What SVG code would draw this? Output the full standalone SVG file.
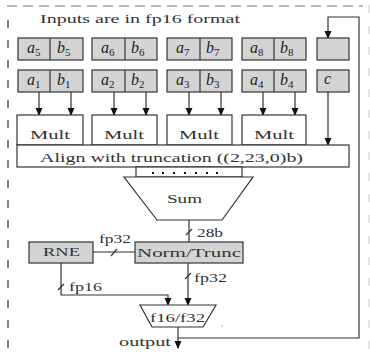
<svg xmlns="http://www.w3.org/2000/svg" width="370" height="357" viewBox="0 0 370 357">
<style>
.box{fill:#d4d4d4;stroke:#333;stroke-width:1.2}
.wbox{fill:#fff;stroke:#333;stroke-width:1.2}
.ln{fill:none;stroke:#333;stroke-width:1.2}
.t{font-family:"Liberation Serif","DejaVu Serif",serif;font-size:12.5px;fill:#333}
.m{font-family:"Liberation Serif","DejaVu Serif",serif;font-size:16px;font-style:italic;fill:#222}
.s{font-size:11px;font-style:normal}
</style>
<defs>
<marker id="ah" markerUnits="userSpaceOnUse" markerWidth="8" markerHeight="8" refX="7" refY="3.5" orient="auto">
<path d="M0,0 L8,3.5 L0,7 z" fill="#111"/>
</marker>
</defs>
<rect width="370" height="357" fill="#fff"/>
<g id="frame">
<line x1="7" y1="6" x2="363" y2="6" stroke="#777" stroke-width="1.2" stroke-dasharray="10,6"/>
<line x1="8" y1="20" x2="8" y2="357" stroke="#333" stroke-width="1.2" stroke-dasharray="8,12"/>
<line x1="369" y1="5" x2="369" y2="357" stroke="#ddd" stroke-width="1.5" stroke-dasharray="8,13"/>
<text class="t" x="40" y="23" textLength="200" lengthAdjust="spacingAndGlyphs">Inputs are in fp16 format</text>
</g>
<g id="connectors">
<line class="ln" x1="39" y1="92" x2="39" y2="115" marker-end="url(#ah)"/>
<line class="ln" x1="71" y1="92" x2="71" y2="115" marker-end="url(#ah)"/>
<line class="ln" x1="114" y1="92" x2="114" y2="115" marker-end="url(#ah)"/>
<line class="ln" x1="146" y1="92" x2="146" y2="115" marker-end="url(#ah)"/>
<line class="ln" x1="189" y1="92" x2="189" y2="115" marker-end="url(#ah)"/>
<line class="ln" x1="221" y1="92" x2="221" y2="115" marker-end="url(#ah)"/>
<line class="ln" x1="263" y1="92" x2="263" y2="115" marker-end="url(#ah)"/>
<line class="ln" x1="295" y1="92" x2="295" y2="115" marker-end="url(#ah)"/>
<line class="ln" x1="328" y1="92" x2="328" y2="145" marker-end="url(#ah)"/>
<line class="ln" x1="189" y1="220" x2="189" y2="242"/>
<line class="ln" x1="186" y1="235" x2="192" y2="229"/>
<text class="t" x="197" y="237" textLength="26" lengthAdjust="spacingAndGlyphs">28b</text>
<line class="ln" x1="93" y1="252" x2="135" y2="252"/>
<line class="ln" x1="111" y1="256" x2="117" y2="249"/>
<text class="t" x="99" y="243" textLength="32" lengthAdjust="spacingAndGlyphs">fp32</text>
<line class="ln" x1="188" y1="263" x2="188" y2="305" marker-end="url(#ah)"/>
<line class="ln" x1="185" y1="279" x2="191" y2="273"/>
<text class="t" x="194" y="282" textLength="33" lengthAdjust="spacingAndGlyphs">fp32</text>
<polyline class="ln" points="61,263 61,295 168,295 168,305" marker-end="url(#ah)"/>
<line class="ln" x1="58" y1="290" x2="64" y2="284"/>
<text class="t" x="69" y="291" textLength="33" lengthAdjust="spacingAndGlyphs">fp16</text>
<line class="ln" x1="178" y1="327" x2="178" y2="348" marker-end="url(#ah)"/>
<polyline class="ln" points="178,338 359,338 359,17 328,17 328,38" marker-end="url(#ah)"/>
<text class="t" x="119" y="346" textLength="52" lengthAdjust="spacingAndGlyphs">output</text>
<circle cx="222" cy="326" r="0.6" fill="#555"/>
</g>
<g id="in5"><rect class="box" x="18" y="38" width="65" height="22"/><line class="ln" x1="50" y1="38" x2="50" y2="60"/>
<text class="m" x="27" y="53">a<tspan class="s" dy="3">5</tspan></text><text class="m" x="57" y="53">b<tspan class="s" dy="3">5</tspan></text></g>
<g id="in6"><rect class="box" x="92" y="38" width="65" height="22"/><line class="ln" x1="125" y1="38" x2="125" y2="60"/>
<text class="m" x="101" y="53">a<tspan class="s" dy="3">6</tspan></text><text class="m" x="131" y="53">b<tspan class="s" dy="3">6</tspan></text></g>
<g id="in7"><rect class="box" x="167" y="38" width="65" height="22"/><line class="ln" x1="200" y1="38" x2="200" y2="60"/>
<text class="m" x="176" y="53">a<tspan class="s" dy="3">7</tspan></text><text class="m" x="206" y="53">b<tspan class="s" dy="3">7</tspan></text></g>
<g id="in8"><rect class="box" x="242" y="38" width="64" height="22"/><line class="ln" x1="274" y1="38" x2="274" y2="60"/>
<text class="m" x="250" y="53">a<tspan class="s" dy="3">8</tspan></text><text class="m" x="280" y="53">b<tspan class="s" dy="3">8</tspan></text></g>
<g id="acc"><rect class="box" x="317" y="38" width="32" height="22"/></g>
<g id="in1"><rect class="box" x="18" y="70" width="65" height="22"/><line class="ln" x1="50" y1="70" x2="50" y2="92"/>
<text class="m" x="27" y="85">a<tspan class="s" dy="3">1</tspan></text><text class="m" x="57" y="85">b<tspan class="s" dy="3">1</tspan></text></g>
<g id="in2"><rect class="box" x="92" y="70" width="65" height="22"/><line class="ln" x1="125" y1="70" x2="125" y2="92"/>
<text class="m" x="101" y="85">a<tspan class="s" dy="3">2</tspan></text><text class="m" x="131" y="85">b<tspan class="s" dy="3">2</tspan></text></g>
<g id="in3"><rect class="box" x="167" y="70" width="65" height="22"/><line class="ln" x1="200" y1="70" x2="200" y2="92"/>
<text class="m" x="176" y="85">a<tspan class="s" dy="3">3</tspan></text><text class="m" x="206" y="85">b<tspan class="s" dy="3">3</tspan></text></g>
<g id="in4"><rect class="box" x="242" y="70" width="64" height="22"/><line class="ln" x1="274" y1="70" x2="274" y2="92"/>
<text class="m" x="250" y="85">a<tspan class="s" dy="3">4</tspan></text><text class="m" x="280" y="85">b<tspan class="s" dy="3">4</tspan></text></g>
<g id="c"><rect class="box" x="317" y="70" width="32" height="22"/><text class="m" x="324" y="84">c</text></g>
<g id="mult1"><rect class="wbox" x="17" y="115" width="66" height="30"/><text class="t" x="30" y="139" textLength="40" lengthAdjust="spacingAndGlyphs">Mult</text></g>
<g id="mult2"><rect class="wbox" x="92" y="115" width="65" height="30"/><text class="t" x="104" y="139" textLength="40" lengthAdjust="spacingAndGlyphs">Mult</text></g>
<g id="mult3"><rect class="wbox" x="167" y="115" width="65" height="30"/><text class="t" x="179" y="139" textLength="40" lengthAdjust="spacingAndGlyphs">Mult</text></g>
<g id="mult4"><rect class="wbox" x="242" y="115" width="64" height="30"/><text class="t" x="254" y="139" textLength="40" lengthAdjust="spacingAndGlyphs">Mult</text></g>
<g id="align"><rect class="wbox" x="17" y="145" width="332" height="22"/><text class="t" x="40" y="162" textLength="263" lengthAdjust="spacingAndGlyphs">Align with truncation ((2,23,0)b)</text></g>
<g id="dots"><rect class="wbox" x="136" y="167" width="106" height="10"/>
<g fill="#111"><rect x="152" y="172" width="2" height="2"/><rect x="162" y="172" width="2" height="2"/><rect x="173" y="172" width="2" height="2"/><rect x="184" y="172" width="2" height="2"/><rect x="195" y="172" width="2" height="2"/><rect x="206" y="172" width="2" height="2"/><rect x="216" y="172" width="2" height="2"/></g></g>
<g id="sum"><polygon class="wbox" points="124,177 253,177 222,220 157,220"/><text class="t" x="167" y="203" textLength="35" lengthAdjust="spacingAndGlyphs">Sum</text></g>
<g id="norm"><rect class="box" x="135" y="242" width="108" height="21"/><text class="t" x="137" y="257" textLength="104" lengthAdjust="spacingAndGlyphs">Norm/Trunc</text></g>
<g id="rne"><rect class="box" x="29" y="242" width="64" height="21"/><text class="t" x="43" y="256" textLength="37" lengthAdjust="spacingAndGlyphs">RNE</text></g>
<g id="mux"><polygon class="wbox" points="140,305 216,305 203,327 152,327"/><text class="t" x="150" y="322" textLength="55" lengthAdjust="spacingAndGlyphs">f16/f32</text></g>
</svg>
